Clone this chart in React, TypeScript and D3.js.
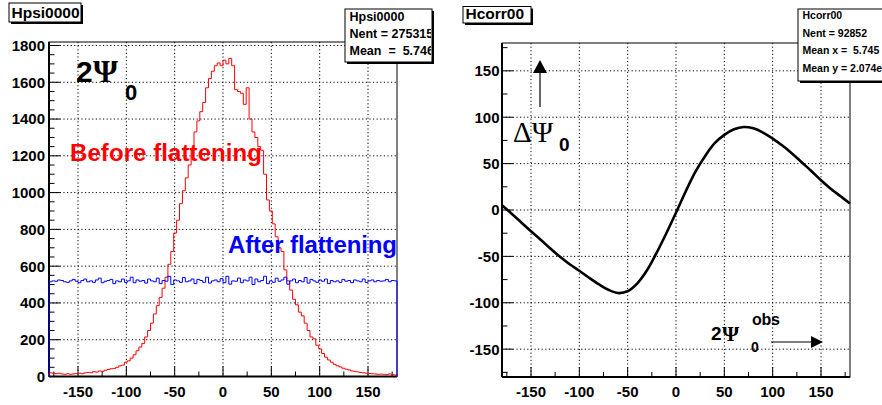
import React from "react";
import * as d3 from "d3";

// ---------- data ----------
const xTickValues = [-150, -100, -50, 0, 50, 100, 150];
const leftYTickValues = [0, 200, 400, 600, 800, 1000, 1200, 1400, 1600, 1800];
const rightYTickValues = [-150, -100, -50, 0, 50, 100, 150];

// Hpsi0000: 120 bins over [-180, 180]
const beforeFlattening = [
  20, 18, 15, 18, 14, 12, 15, 12, 14, 16,
  18, 15, 20, 22, 20, 26, 24, 30, 28, 34,
  38, 42, 44, 50, 58, 62, 78, 85, 100, 118,
  140, 160, 180, 215, 250, 290, 340, 385, 430, 480,
  540, 610, 680, 780, 850, 940, 1010, 1080, 1150, 1230,
  1330, 1390, 1440, 1490, 1570, 1620, 1660, 1690, 1705, 1690,
  1720, 1700, 1730, 1690, 1560, 1550, 1540, 1480, 1570, 1400,
  1330, 1300, 1250, 1230, 1100, 960, 900, 830, 760, 700,
  680, 580, 520, 470, 420, 390, 350, 330, 290, 250,
  215, 205, 170, 150, 125, 105, 90, 78, 66, 58,
  52, 45, 40, 36, 30, 28, 25, 22, 20, 18,
  16, 15, 14, 12, 13, 12, 10, 14, 10, 8,
];
const afterFlattening = [
  515, 520, 518, 525, 522, 515, 512, 520, 528, 518,
  510, 522, 530, 515, 520, 512, 525, 535, 510, 518,
  522, 528, 505, 520, 515, 530, 512, 520, 540, 510,
  525, 518, 522, 508, 530, 520, 515, 535, 505, 522,
  518, 545, 500, 525, 520, 512, 538, 515, 520, 530,
  505, 528, 522, 512, 540, 508, 520, 525, 515, 532,
  510, 545, 502, 520, 518, 535, 510, 525, 520, 540,
  500, 530, 515, 522, 545, 505, 520, 512, 535, 518,
  525, 540, 502, 520, 530, 510, 522, 515, 538, 508,
  528, 520, 512, 525, 518, 530, 505, 522, 515, 520,
  512, 528, 518, 522, 510, 525, 520, 515, 530, 512,
  520, 525, 515, 522, 518, 520, 528, 515, 522, 520,
];

// Hcorr00: correction vs observed angle
const corrX = [
  -180, -170, -160, -150, -140, -130, -120, -110, -100, -90, -80, -70, -60, -50, -40, -30, -20, -10,
  0, 10, 20, 30, 40, 50, 60, 70, 80, 90, 100, 110, 120, 130, 140, 150, 160, 170, 180,
];
const corrY = [
  5, -4, -13.5, -23, -32, -41.5, -50.5, -58.5, -65.5, -73, -80, -86, -89.5, -87.5, -79, -65, -46, -25,
  -3, 20, 41, 58, 72, 81, 87, 89.5, 88, 83.5, 77, 69.5, 61, 51.5, 42, 32, 23, 15, 7,
];

const leftStats = ["Hpsi0000", "Nent = 275315", "Mean  =  5.746"];
const rightStats = ["Hcorr00", "Nent = 92852", "Mean x =  5.745", "Mean y = 2.074e-05"];

// ---------- style ----------
const SANS = "'Liberation Sans', Arial, Helvetica, sans-serif";
const SERIF = "'Liberation Serif', 'Times New Roman', serif";

function range(a: number, b: number, step: number) {
  const out: number[] = [];
  for (let v = a; v <= b + 1e-9; v += step) out.push(v);
  return out;
}

function histPath(values: number[], x: any, y: any) {
  const n = values.length;
  const w = 360 / n;
  const p = d3.path();
  p.moveTo(x(-180), y(0));
  values.forEach((v, i) => {
    const x0 = -180 + i * w;
    p.lineTo(x(x0), y(v));
    p.lineTo(x(x0 + w), y(v));
  });
  p.lineTo(x(180), y(0));
  return p.toString();
}

function TitleBox({ x, y, w, h, text }: any) {
  return (
    <g>
      <rect x={x + 2} y={y + 2} width={w} height={h} fill="#000" />
      <rect x={x} y={y} width={w} height={h} fill="#fff" stroke="#000" strokeWidth={1} />
      <text x={x + 2.5} y={y + h - 4} fontFamily={SANS} fontWeight="bold" fontSize={15.5} fill="#000">
        {text}
      </text>
    </g>
  );
}

function StatsBox({ id, x, y, w, h, lines, fontSize, lineStep, firstBase }: any) {
  return (
    <g>
      <clipPath id={id}>
        <rect x={x} y={y} width={w - 1} height={h} />
      </clipPath>
      <rect x={x + 2} y={y + 2} width={w} height={h} fill="#000" />
      <rect x={x} y={y} width={w} height={h} fill="#fff" stroke="#000" strokeWidth={1} />
      <g clipPath={`url(#${id})`}>
        {lines.map((t: string, i: number) => (
          <text
            key={i}
            x={x + 4.5}
            y={firstBase + i * lineStep}
            fontFamily={SANS}
            fontWeight="bold"
            fontSize={fontSize}
            fill="#000"
            style={{ whiteSpace: "pre" }}
          >
            {t}
          </text>
        ))}
      </g>
    </g>
  );
}

function Frame({ x, y, yTicks, yMinor, xMinor, yFmt, labelGap }: any) {
  const [x0, x1] = x.range();
  const [y0, y1] = y.range();
  const top = Math.min(y0, y1);
  const bottom = Math.max(y0, y1);
  return (
    <g>
      {xTickValues.map((v) => (
        <line key={"gx" + v} x1={x(v)} x2={x(v)} y1={top} y2={bottom} stroke="#000" strokeWidth={1} strokeDasharray="1.2,2.4" />
      ))}
      {yTicks.map((v: number) => (
        <line key={"gy" + v} x1={x0} x2={x1} y1={y(v)} y2={y(v)} stroke="#000" strokeWidth={1} strokeDasharray="1.2,2.4" />
      ))}
      <rect x={x0} y={top} width={x1 - x0} height={bottom - top} fill="none" stroke="#000" strokeWidth={1} />
      <line x1={x0} x2={x0} y1={top} y2={bottom} stroke="#000" strokeWidth={2} />
      <line x1={x0} x2={x1} y1={bottom} y2={bottom} stroke="#000" strokeWidth={2} />
      {yTicks.map((v: number) => (
        <line key={"ty" + v} x1={x0} x2={x0 + 11} y1={y(v)} y2={y(v)} stroke="#000" strokeWidth={1} />
      ))}
      {yMinor.map((v: number) => (
        <line key={"my" + v} x1={x0} x2={x0 + 5.5} y1={y(v)} y2={y(v)} stroke="#000" strokeWidth={1} />
      ))}
      {yTicks.map((v: number) => (
        <text key={"ly" + v} x={x0 - labelGap} y={y(v)} dy="0.36em" textAnchor="end" fontFamily={SANS} fontWeight="bold" fontSize={15} fill="#000">
          {yFmt(v)}
        </text>
      ))}
      {xTickValues.map((v) => (
        <line key={"tx" + v} x1={x(v)} x2={x(v)} y1={bottom} y2={bottom - 10} stroke="#000" strokeWidth={1} />
      ))}
      {xMinor.map((v: number) => (
        <line key={"mx" + v} x1={x(v)} x2={x(v)} y1={bottom} y2={bottom - 5} stroke="#000" strokeWidth={1} />
      ))}
      {xTickValues.map((v) => (
        <text key={"lx" + v} x={x(v)} y={bottom + 20} textAnchor="middle" fontFamily={SANS} fontWeight="bold" fontSize={15} fill="#000">
          {v}
        </text>
      ))}
    </g>
  );
}

export default function App() {
  const xL = d3.scaleLinear().domain([-180, 180]).range([49, 397]);
  const yL = d3.scaleLinear().domain([0, 1819]).range([376.5, 42]);
  const xR = d3.scaleLinear().domain([-180, 180]).range([502, 850]);
  const yR = d3.scaleLinear().domain([-180, 180]).range([377, 43]);

  const xMinor = range(-175, 175, 25).filter((v) => v % 50 !== 0);
  const leftYMinor = range(50, 1750, 50).filter((v) => v % 200 !== 0);
  const rightYMinor = range(-175, 175, 25).filter((v) => v % 50 !== 0);

  const corrLine = d3
    .line<number>()
    .x((_, i) => xR(corrX[i]))
    .y((d) => yR(d))
    .curve(d3.curveCatmullRom.alpha(0.5));

  return (
    <svg width={882} height={405} style={{ position: "absolute", left: 0, top: 0, background: "#fff" }}>
      <rect x={0} y={0} width={882} height={405} fill="#fff" />

      {/* ---------- left pad ---------- */}
      <Frame x={xL} y={yL} yTicks={leftYTickValues} yMinor={leftYMinor} xMinor={xMinor} yFmt={(v: number) => String(v)} labelGap={4} />
      <path d={histPath(beforeFlattening, xL, yL)} fill="none" stroke="#ff0000" strokeWidth={1} />
      <path d={histPath(afterFlattening, xL, yL)} fill="none" stroke="#0000ff" strokeWidth={1} />
      <text x={76} y={82} fontFamily={SANS} fontWeight="bold" fontSize={30} fill="#000">2</text>
      <text x={93} y={82} fontFamily={SERIF} fontWeight="bold" fontSize={32} textLength={32} fill="#000">Ψ</text>
      <text x={125} y={100} fontFamily={SANS} fontWeight="bold" fontSize={22} fill="#000">0</text>
      <text x={70} y={161} fontFamily={SANS} fontWeight="bold" fontSize={24} textLength={192} fill="#ff0000">Before flattening</text>
      <text x={228} y={253} fontFamily={SANS} fontWeight="bold" fontSize={24} textLength={169} fill="#0000ff">After flattening</text>

      <TitleBox x={9} y={3} w={72} h={19} text="Hpsi0000" />
      <StatsBox id="clipL" x={345} y={9} w={87} h={53} lines={leftStats} fontSize={12.5} lineStep={17.3} firstBase={20.5} />

      {/* ---------- right pad ---------- */}
      <Frame x={xR} y={yR} yTicks={rightYTickValues} yMinor={rightYMinor} xMinor={xMinor} yFmt={(v: number) => String(v)} labelGap={2.5} />
      <path d={corrLine(corrY) || ""} fill="none" stroke="#000" strokeWidth={2.6} strokeLinejoin="round" />

      {/* up arrow + ΔΨ0 */}
      <line x1={540} x2={540} y1={107} y2={72} stroke="#000" strokeWidth={1.2} />
      <path d="M533,73 L547,73 L540,60 Z" fill="#000" />
      <text x={513} y={142} fontFamily={SERIF} fontSize={29} fill="#000">ΔΨ</text>
      <text x={559} y={151} fontFamily={SANS} fontWeight="bold" fontSize={19} fill="#000">0</text>

      {/* 2Ψ0^obs + right arrow */}
      <text x={711} y={340} fontFamily={SANS} fontWeight="bold" fontSize={19} fill="#000">2</text>
      <text x={722} y={341} fontFamily={SERIF} fontWeight="bold" fontSize={22} textLength={23} fill="#000">Ψ</text>
      <text x={751} y={352} fontFamily={SANS} fontWeight="bold" fontSize={14} fill="#000">0</text>
      <text x={752} y={325} fontFamily={SANS} fontWeight="bold" fontSize={16} textLength={28} fill="#000">obs</text>
      <line x1={771} x2={812} y1={342} y2={342} stroke="#000" strokeWidth={1.2} />
      <path d="M811,336 L811,348 L823,342 Z" fill="#000" />

      <TitleBox x={463} y={6.5} w={68} h={16.5} text="Hcorr00" />
      <StatsBox id="clipR" x={798} y={9} w={92} h={72} lines={rightStats} fontSize={10.5} lineStep={17.4} firstBase={19.3} />
    </svg>
  );
}
